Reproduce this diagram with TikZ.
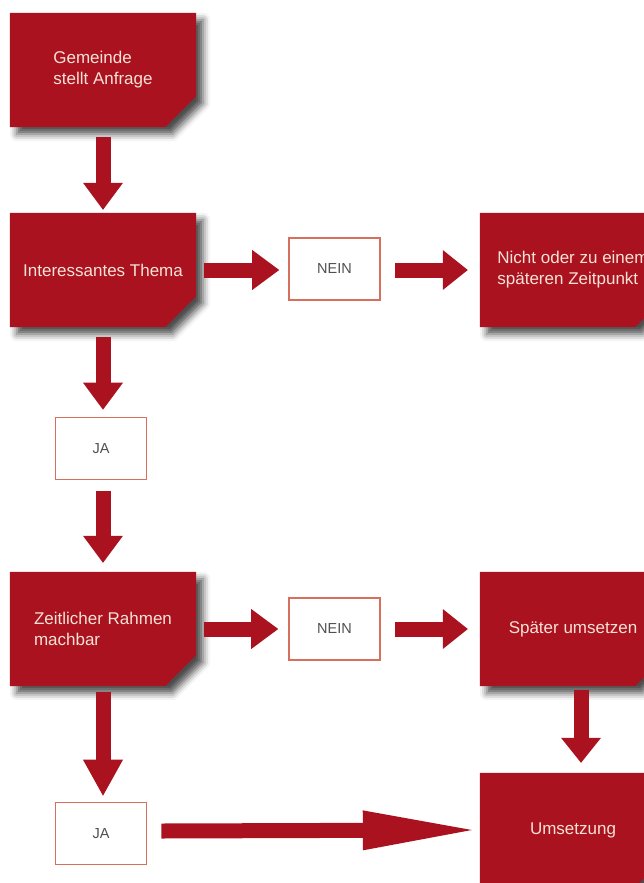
\documentclass[tikz,border=0pt]{standalone}
\usepackage{fontspec}
\setmainfont{Liberation Sans}
\usetikzlibrary{arrows.meta,shadows.blur}
\pgfdeclarelayer{bg}
\pgfsetlayers{bg,main}
\definecolor{boxred}{RGB}{170,18,32}
\definecolor{boxtext}{RGB}{246,226,214}
\definecolor{framecol}{RGB}{214,112,92}
\definecolor{labgray}{RGB}{80,80,80}
\begin{document}
\begin{tikzpicture}[x=1pt,y=-1pt,
  stepbox/.style={minimum width=186pt, minimum height=114pt, inner sep=0pt,
    text=boxtext, font=\fontsize{17}{21}\selectfont, align=left},
  answer/.style={draw=framecol, line width=1.6pt, fill=white,
    minimum width=91pt, minimum height=62pt, inner sep=0pt,
    text=labgray, font=\fontsize{14.5}{16}\selectfont},
  fat/.style={draw=boxred, line width=15pt,
    -{Triangle[length=#1,width=40pt,line width=0pt]}},
  fat/.default=27pt,
  boxshadow/.style={blur shadow={shadow xshift=7pt, shadow yshift=-7pt,
    shadow blur radius=7pt, shadow opacity=70}}
]
\useasboundingbox (0,0) rectangle (643,883);

% boxes
\node[stepbox] (b1) at (103,70)  {Gemeinde\\stellt Anfrage};
\node[stepbox] (b2) at (103,270) {Interessantes Thema};
\node[stepbox] (b3) at (573,270) {Nicht oder zu einem\\späteren Zeitpunkt};
\node[stepbox] (b4) at (103,629) {Zeitlicher Rahmen\\machbar};
\node[stepbox] (b5) at (573,629) {Später umsetzen};
\node[stepbox] (b6) at (573,830) {Umsetzung};

\begin{pgfonlayer}{bg}
  \foreach \n in {b1,b2,b3,b4,b5,b6}{
    \fill[boxred, boxshadow] (\n.north west) -- (\n.north east)
      -- ([yshift=31pt]\n.south east) -- ([xshift=-31pt]\n.south east)
      -- (\n.south west) -- cycle;
  }
\end{pgfonlayer}

% answers
\node[answer] (a1) at (334.5,269) {NEIN};
\node[answer] (a2) at (334.5,629) {NEIN};
\node[answer] (j1) at (101,448.5) {JA};
\node[answer] (j2) at (101,833.5) {JA};

% arrows
\draw[fat] ([yshift=-10pt]b1.south) -- ([yshift=3pt]b2.north);
\draw[fat] ([xshift=8pt]b2.east) -- ([xshift=-9pt]a1.west |- b2.east);
\draw[fat=25pt] ([xshift=14pt]a1.east |- b3.west) -- ([xshift=-12pt]b3.west);
\draw[fat] ([yshift=-10pt]b2.south) -- ([yshift=7pt]j1.north -| b2.south);
\draw[fat] ([yshift=-11pt]j1.south -| b4.north) -- ([yshift=9pt]b4.north);
\draw[fat] ([xshift=8pt]b4.east) -- ([xshift=-10pt]a2.west |- b4.east);
\draw[fat=25pt] ([xshift=14pt]a2.east |- b5.west) -- ([xshift=-12pt]b5.west);
\draw[fat=36pt] ([yshift=-6pt]b4.south) -- ([yshift=6pt]j2.north -| b4.south);
\draw[fat=25pt] ([xshift=8pt,yshift=-4pt]b5.south) -- ([xshift=8pt,yshift=10pt]b6.north);
\draw[fat=109pt] ([xshift=14pt,yshift=2.5pt]j2.east) -- ([xshift=-8pt]b6.west);
\end{tikzpicture}
\end{document}
